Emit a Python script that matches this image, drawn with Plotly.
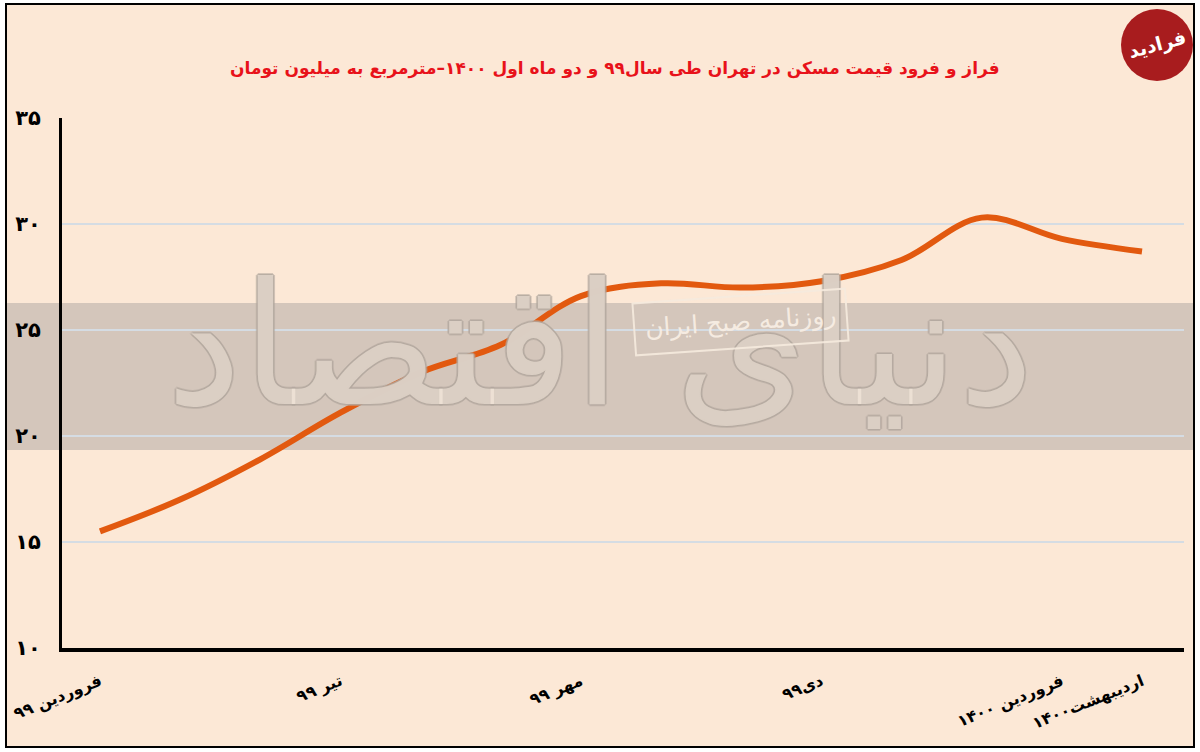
import plotly.graph_objects as go

# ---- data ----
months = list(range(14))
prices = [15.5, 17.0, 18.9, 21.1, 23.0, 24.3, 26.6, 27.2, 27.0, 27.3, 28.3, 30.3, 29.3, 28.7]
x_tickvals = [0, 3, 6, 9, 12, 13]
x_ticktext = ["فروردین ۹۹", "تیر ۹۹", "مهر ۹۹", "دی۹۹", "فروردین ۱۴۰۰", "اردیبهشت۱۴۰۰"]
y_tickvals = [10, 15, 20, 25, 30, 35]
y_ticktext = ["۱۰", "۱۵", "۲۰", "۲۵", "۳۰", "۳۵"]
title_text = "فراز و فرود قیمت مسکن در تهران طی سال۹۹ و دو ماه اول ۱۴۰۰–مترمربع به میلیون تومان"

W, H = 1200, 752
L, R, T, B = 62, 16, 118, 104
PW, PH = W - L - R, H - T - B

def px(xp):
    return (xp - L) / PW

def py(yp):
    return (H - B - yp) / PH

PEACH = "#FCE8D6"
BAND = "#D4C6BB"
FONT = "DejaVu Sans"

fig = go.Figure()
fig.add_trace(go.Scatter(
    x=months, y=prices, mode="lines",
    line=dict(color="#E2590F", width=6, shape="spline", smoothing=1.0),
    hoverinfo="skip", showlegend=False,
))

shapes = [
    dict(type="rect", xref="paper", yref="paper", layer="below",
         x0=px(6), x1=px(1194), y0=py(747), y1=py(4),
         fillcolor=PEACH, line=dict(color="black", width=2)),
    dict(type="rect", xref="paper", yref="paper", layer="below",
         x0=px(7), x1=px(1193), y0=py(450), y1=py(303),
         fillcolor=BAND, line=dict(width=0)),
    dict(type="circle", xref="paper", yref="paper", layer="above",
         x0=px(1121), x1=px(1193), y0=py(81), y1=py(9),
         fillcolor="#A81C1E", line=dict(width=0)),
]

outline = "#B3A79E"
shadow = ",".join(f"{a}px {b}px 0 {outline}" for a, b in [(-1, -1), (1, -1), (-1, 1), (1, 1), (0, 2), (2, 0), (0, -2), (-2, 0)])

annotations = [
    dict(text=f"<b>{title_text}</b>", xref="paper", yref="paper",
         x=px(615), y=py(68), showarrow=False, xanchor="center", yanchor="middle",
         font=dict(family=FONT, size=17, color="#E8121A")),
    dict(text="دنیای اقتصاد", xref="paper", yref="paper",
         x=px(600), y=py(345), showarrow=False, xanchor="center", yanchor="middle",
         font=dict(family=FONT, size=170, color="rgba(252,238,226,0.55)", shadow=shadow)),
    dict(text="روزنامه صبح ایران", xref="paper", yref="paper",
         x=px(740), y=py(322), showarrow=False, xanchor="center", yanchor="middle",
         textangle=-4, bordercolor="rgba(245,234,222,0.9)", borderwidth=2, borderpad=10,
         font=dict(family=FONT, size=25, color="rgba(248,238,228,0.95)")),
    dict(text="<b>فرادید</b>", xref="paper", yref="paper",
         x=px(1157), y=py(45), showarrow=False, xanchor="center", yanchor="middle",
         textangle=-15,
         font=dict(family=FONT, size=19, color="white")),
]

fig.update_layout(
    width=W, height=H,
    margin=dict(l=L, r=R, t=T, b=B, pad=0, autoexpand=False),
    paper_bgcolor="white",
    plot_bgcolor="rgba(0,0,0,0)",
    shapes=shapes,
    annotations=annotations,
    showlegend=False,
)
fig.update_xaxes(
    range=[-0.474, 13.524], tickvals=x_tickvals, ticktext=x_ticktext,
    tickangle=-22, ticks="", showgrid=False, zeroline=False, automargin=False,
    showline=True, linecolor="black", linewidth=4,
    tickfont=dict(family=FONT, size=16, color="black", weight="bold"),
    ticklabelstandoff=14,
)
fig.update_yaxes(
    range=[10, 35], tickvals=y_tickvals, ticktext=y_ticktext,
    ticks="", showgrid=True, gridcolor="#D5DCE3", gridwidth=2, zeroline=False, automargin=False,
    showline=True, linecolor="black", linewidth=3,
    tickfont=dict(family=FONT, size=21, color="black", weight="bold"),
    ticklabelstandoff=14,
)

fig.write_html("out.html", config={"displayModeBar": False},
               post_script="document.body.style.margin='0';document.body.style.overflow='hidden';")
